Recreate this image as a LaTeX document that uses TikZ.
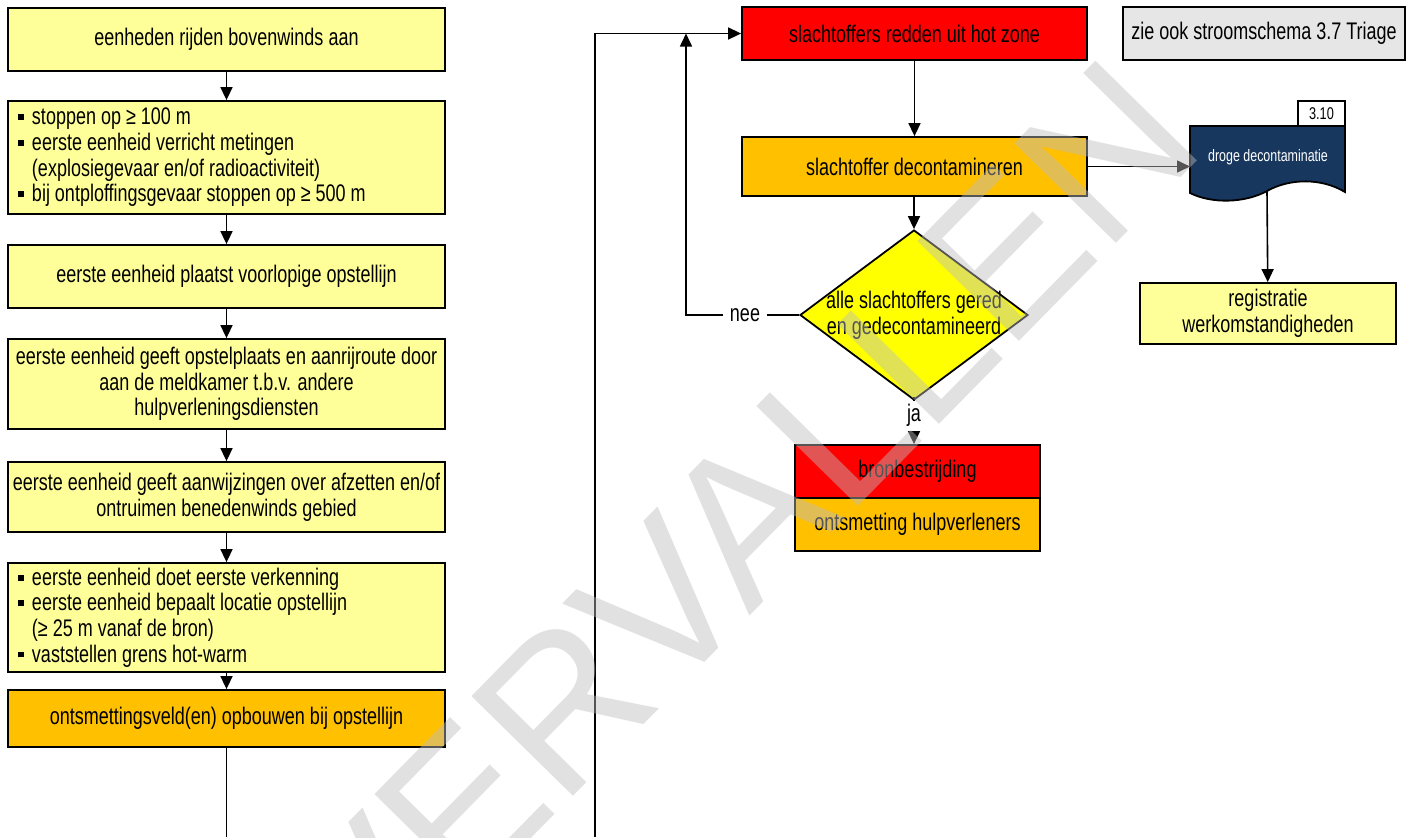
\documentclass[tikz,border=0pt]{standalone}
\usepackage{fontspec}
\setmainfont{Liberation Sans}[FakeStretch=0.75]
\newfontfamily\stempelfont{Liberation Sans}
\usetikzlibrary{arrows.meta,shapes.geometric}
\definecolor{lichtgeel}{RGB}{255,255,153}
\definecolor{oranje}{RGB}{255,192,0}
\definecolor{rood}{RGB}{255,0,0}
\definecolor{geel}{RGB}{255,255,0}
\definecolor{lichtgrijs}{RGB}{230,230,230}
\definecolor{donkerblauw}{RGB}{23,55,94}
\definecolor{stempelgrijs}{RGB}{189,189,189}
\newcommand\tekst{\fontsize{12}{12.8}\selectfont}
\newcommand\bul{\makebox[7pt][l]{\rule[2.4pt]{2.8pt}{2.9pt}}}
\newcommand\insp{\hspace*{7pt}}
\tikzset{
  blok/.style={draw, line width=0.9pt, font=\tekst, align=center, inner sep=2pt},
  links/.style={blok, fill=lichtgeel, minimum width=218.5pt},
  lijst/.style={links, align=left, text width=208.5pt, inner xsep=5pt,
    execute at begin node={\spaceskip=0pt \xspaceskip=0pt}},
  pijl/.style={line width=0.8pt, -{Triangle[length=6.5pt,width=6pt]}},
  lijn/.style={line width=0.8pt},
  beslis/.style={diamond, draw, line width=0.9pt, fill=geel, inner sep=0pt,
    minimum width=114pt, minimum height=85pt},
  label/.style={font=\tekst}
}
\begin{document}
\begin{tikzpicture}[x=0.5pt,y=-0.5pt]
  \useasboundingbox (0,0) rectangle (1415,837);

  % linker kolom
  \node[links, minimum height=31.5pt] (b1) at (226.5,39.5) {eenheden rijden bovenwinds aan};
  \node[lijst, minimum height=56.5pt] (b2) at (226.5,157.5) {\bul stoppen op ≥ 100 m\\
    \bul eerste eenheid verricht metingen\\
    \insp(explosiegevaar en/of radioactiviteit)\\
    \bul bij ontploffingsgevaar stoppen op ≥ 500 m};
  \node[links, minimum height=31.5pt] (b3) at (226.5,276.5) {eerste eenheid plaatst voorlopige opstellijn};
  \node[links, minimum height=45pt] (b4) at (226.5,384) {eerste eenheid geeft opstelplaats en aanrijroute door\\
    aan de meldkamer t.b.v. andere\\ hulpverleningsdiensten};
  \node[links, minimum height=35pt] (b5) at (226.5,497) {eerste eenheid geeft aanwijzingen over afzetten en/of\\
    ontruimen benedenwinds gebied};
  \node[lijst, minimum height=54.5pt] (b6) at (226.5,617.5) {\bul eerste eenheid doet eerste verkenning\\
    \bul eerste eenheid bepaalt locatie opstellijn\\
    \insp(≥ 25 m vanaf de bron)\\
    \bul vaststellen grens hot-warm};
  \node[links, fill=oranje, minimum height=28.5pt] (b7) at (226.5,718.5) {ontsmettingsveld(en) opbouwen bij opstellijn};

  \foreach \a/\b in {b1/b2,b2/b3,b3/b4,b4/b5,b5/b6,b6/b7}
    \draw[pijl] (\a) -- (\b);
  \coordinate (uit) at (226.5,837);
  \draw[lijn] (b7) -- (uit);

  % rechter deel
  \node[blok, fill=rood, minimum width=172.5pt, minimum height=26.5pt] (redden) at (914.5,33.5) {slachtoffers redden uit hot zone};
  \node[blok, fill=lichtgrijs, minimum width=141pt, minimum height=26.5pt] (zie) at (1264,33.5) {zie ook stroomschema 3.7 Triage};
  \node[blok, fill=oranje, minimum width=172.5pt, minimum height=29.5pt] (decon) at (914.5,166.5) {slachtoffer decontamineren};
  \node[beslis] (vraag) at (914,315) {};
  \node[label, align=center] (vraagtekst) at (vraag) {alle slachtoffers gered\\en gedecontamineerd};
  \node[blok, fill=rood, minimum width=122.5pt, minimum height=26.5pt] (bron) at (917.5,471.5) {bronbestrijding};
  \node[blok, fill=oranje, minimum width=122.5pt, minimum height=26.5pt] (ontsm) at (917.5,524.5) {ontsmetting hulpverleners};
  \node[blok, fill=lichtgeel, minimum width=128pt, minimum height=30.5pt] (reg) at (1268,313.5) {registratie\\werkomstandigheden};

  % document 3.10
  \filldraw[fill=donkerblauw, line width=0.9pt] (1190,126) -- (1345,126) -- (1345,192)
    .. controls (1322,178) and (1290,178) .. (1267,191)
    .. controls (1245,203) and (1212,204) .. (1190,193) -- cycle;
  \node[text=white, font=\fontsize{8.3}{10}\selectfont] (droge) at (1268,157) {droge decontaminatie};
  \node[draw, fill=white, line width=0.9pt, minimum width=23.5pt, minimum height=12.5pt,
    inner sep=0pt, font=\fontsize{8.5}{10}\selectfont] (nr) at (1321.5,113.5) {3.10};
  \coordinate (docin) at (1190,166.5);
  \coordinate (docuit) at (1267,191);

  \node[label] (nee) at (745,315) {nee};
  \node[label] (ja) at (914,415) {ja};
  \coordinate (in) at (595,837);
  \coordinate (terug) at (686,33.5);

  \draw[pijl] (in) |- (redden.west);
  \draw[lijn] (vraag.west) -- (nee);
  \draw[pijl] (nee) -| (terug);
  \draw[pijl] (redden) -- (decon);
  \draw[pijl] (decon.south -| vraag) -- (vraag);
  \draw[pijl] (decon.east) -- (docin);
  \draw[pijl] (docuit) -- (reg);
  \draw[lijn] (vraag.south) -- (ja);
  \draw[pijl] (ja) -- (ja |- bron.north);

  % stempel
  \node[rotate=45.5, text=stempelgrijs, text opacity=0.45,
    font=\stempelfont\fontsize{103.5}{103.5}\selectfont] (stempel) at (738,527) {VERVALLEN};
\end{tikzpicture}
\end{document}
